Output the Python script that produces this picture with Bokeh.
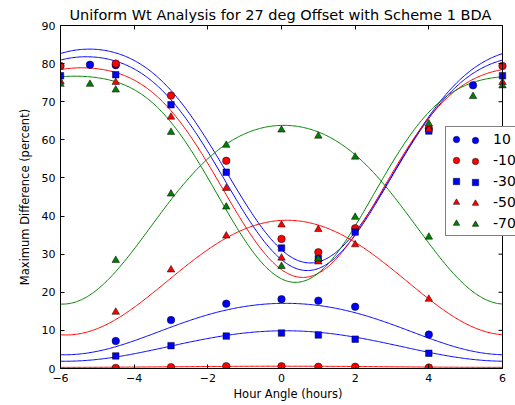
import numpy as np
from bokeh.plotting import figure
from bokeh.models import (Range1d, LinearAxis, Legend, LegendItem, Span,
                          CustomJSTickFormatter, FixedTicker)
from bokeh.embed import file_html
from bokeh.resources import INLINE

FONT = "DejaVu Sans"
TITLE = "Uniform Wt Analysis for 27 deg Offset with Scheme 1 BDA"
X_LABEL = "Hour Angle (hours)"
Y_LABEL = "Maximum Difference (percent)"
x_ticks = [-6, -4, -2, 0, 2, 4, 6]
x_tick_labels = ["\u22126", "\u22124", "\u22122", "0", "2", "4", "6"]
y_ticks = [0, 10, 20, 30, 40, 50, 60, 70, 80, 90]
X_MIN, X_MAX = -6, 6
Y_MIN, Y_MAX = 0, 90

series_labels = ["10", "-10", "-30", "-50", "-70"]
series_colors = ["#0000ff", "#ff0000", "#0000ff", "#ff0000", "#008000"]
series_markers = ["circle", "circle", "square", "triangle", "triangle"]
series_sizes = [7.5, 7.5, 6.5, 7.5, 7.5]

# measured points: upper branch (high at the ends) and lower branch (peak near 0)
s10_up_h = [-5.2, -4.5, 5.2]
s10_up_v = [79.7, 79.6, 74.3]
s10_lo_h = [-4.5, -3, -1.5, 0, 1, 2, 4]
s10_lo_v = [7.2, 12.7, 17.0, 18.2, 17.8, 16.2, 8.9]

m10_up_h = [-6, -4.5, -3, -1.5, 0, 1, 2, 4, 6]
m10_up_v = [79.4, 80.0, 71.6, 54.5, 34.0, 30.5, 36.8, 63.0, 79.4]
m10_lo_h = [-4.5, -3, -1.5, 0, 1, 2, 4]
m10_lo_v = [0.15, 0.35, 0.6, 0.6, 0.45, 0.45, 0.25]

m30_up_h = [-6, -4.5, -3, -1.5, 0, 1, 2, 4, 6]
m30_up_v = [76.8, 77.1, 69.2, 51.5, 31.6, 28.8, 35.8, 62.3, 76.8]
m30_lo_h = [-4.5, -3, -1.5, 0, 1, 2, 4]
m30_lo_v = [3.3, 6.0, 8.5, 9.3, 8.8, 7.7, 4.0]

m50_up_h = [-6, -4.5, -3, -1.5, 0, 1, 4, 6]
m50_up_v = [75.3, 75.1, 66.0, 47.3, 29.0, 28.0, 62.8, 75.1]
m50_lo_h = [-4.5, -3, -1.5, 0, 1, 2, 4]
m50_lo_v = [14.8, 25.9, 34.8, 37.7, 36.5, 32.5, 18.2]

m70_up_h = [-6, -5.2, -4.5, -3, -1.5, 0, 1, 2, 4, 5.2, 6]
m70_up_v = [74.6, 74.6, 73.1, 62.0, 42.4, 26.8, 28.8, 39.7, 64.2, 71.4, 74.2]
m70_lo_h = [-4.5, -3, -1.5, 0, 1, 2, 4]
m70_lo_v = [28.4, 45.8, 58.6, 62.6, 61.0, 55.5, 34.5]

points_h = [s10_up_h + s10_lo_h, m10_up_h + m10_lo_h, m30_up_h + m30_lo_h,
            m50_up_h + m50_lo_h, m70_up_h + m70_lo_h]
points_v = [s10_up_v + s10_lo_v, m10_up_v + m10_lo_v, m30_up_v + m30_lo_v,
            m50_up_v + m50_lo_v, m70_up_v + m70_lo_v]

# model curves (12 h period): centre hour, minimum, peak, 2nd-harmonic term
upper_colors = ["#0000ff", "#0000ff", "#ff0000", "#008000"]
upper_center = [0.78, 0.70, 0.58, 0.38]
upper_min = [27.7, 25.7, 23.9, 22.6]
upper_peak = [83.8, 81.8, 78.9, 76.7]
upper_harm2 = [-3.6, -3.85, -4.4, -5.0]

lower_colors = ["#0000ff", "#ff0000", "#0000ff", "#ff0000", "#008000"]
lower_center = [0.1, 0.0, 0.1, 0.15, 0.06]
lower_peak = [17.1, 0.6, 9.9, 38.9, 63.8]
lower_min = [3.6, 0.3, 1.9, 8.8, 16.9]
lower_harm2 = [-0.43, 0.0, -0.1, -0.53, -2.33]

# layout: axes box 60..502 px wide; the plotting frame runs on to the window
# edge so that the legend can hang over the right spine as in the original
W, H = 515, 405
LEFT, TOP, BOTTOM = 60, 25, 37
BOX_RIGHT = 502
px_per_hour = (BOX_RIGHT - LEFT) / (X_MAX - X_MIN)
x_end = X_MAX + (W - BOX_RIGHT) / px_per_hour

p = figure(width=W, height=H, x_range=Range1d(X_MIN, x_end), y_range=Range1d(Y_MIN, Y_MAX),
           output_backend="svg", toolbar_location=None,
           min_border_left=LEFT, min_border_right=0, min_border_top=TOP,
           min_border_bottom=BOTTOM)
p.background_fill_color = "white"
p.border_fill_color = "white"
p.outline_line_color = None
p.xgrid.visible = False
p.ygrid.visible = False

p.title.text = TITLE
p.title.align = "left"
p.title.offset = 9
p.title.standoff = 5
p.title.text_font = FONT
p.title.text_font_size = "14.5px"
p.title.text_font_style = "normal"
p.title.text_color = "black"

hh = np.linspace(X_MIN, X_MAX, 361)
for col, h0, vmin, vpk, c2 in zip(upper_colors, upper_center, upper_min, upper_peak, upper_harm2):
    b = (vpk - vmin) / 2.0
    a = (vpk + vmin) / 2.0 - c2
    phi = np.pi * (hh - h0) / 6.0
    p.line(hh, a - b * np.cos(phi) + c2 * np.cos(2 * phi), line_color=col, line_width=1)
for col, h0, vmin, vpk, c2 in zip(lower_colors, lower_center, lower_min, lower_peak, lower_harm2):
    b = (vpk - vmin) / 2.0
    a = (vpk + vmin) / 2.0 - c2
    phi = np.pi * (hh - h0) / 6.0
    p.line(hh, a + b * np.cos(phi) + c2 * np.cos(2 * phi), line_color=col, line_width=1)

renderers = []
for lab, col, mk, sz, hs, vs in zip(series_labels, series_colors, series_markers,
                                    series_sizes, points_h, points_v):
    r = p.scatter(hs, vs, marker=mk, size=sz, fill_color=col, line_color="black",
                  line_width=0.5)
    renderers.append(r)

xa = p.xaxis[0]
xa.ticker = FixedTicker(ticks=x_ticks)
xa.major_label_overrides = {t: l for t, l in zip(x_ticks, x_tick_labels)}
xa.bounds = (X_MIN, X_MAX)
ya = p.yaxis[0]
ya.ticker = FixedTicker(ticks=y_ticks)
for ax in (xa, ya):
    ax.major_tick_in = 4
    ax.major_tick_out = 0
    ax.minor_tick_in = 0
    ax.minor_tick_out = 0
    ax.axis_line_color = "black"
    ax.major_tick_line_color = "black"
    ax.major_label_text_font = FONT
    ax.major_label_text_font_size = "11px"
    ax.major_label_text_color = "black"
    ax.axis_label_text_font = FONT
    ax.axis_label_text_font_size = "11.5px"
    ax.axis_label_text_font_style = "normal"
    ax.axis_label_text_color = "black"
xa.axis_label = X_LABEL
xa.major_label_standoff = 5
xa.axis_label_standoff = 2
ya.axis_label = Y_LABEL
ya.major_label_standoff = 5
ya.axis_label_standoff = 7

empty = CustomJSTickFormatter(code="return ''")
top = LinearAxis(ticker=FixedTicker(ticks=x_ticks), formatter=empty, bounds=(X_MIN, X_MAX),
                 major_tick_in=4, major_tick_out=0, minor_tick_in=0, minor_tick_out=0,
                 major_label_standoff=0, major_label_text_font_size="0px",
                 axis_line_color="black")
p.add_layout(top, "above")

# right spine of the axes box with inward ticks
p.add_layout(Span(location=X_MAX, dimension="height", line_color="black", line_width=1))
tick_len = 4 / px_per_hour
p.segment(x0=[X_MAX] * len(y_ticks), y0=y_ticks, x1=[X_MAX - tick_len] * len(y_ticks),
          y1=y_ticks, line_color="black", line_width=1)

# legend: box with first marker and label, then an overlay with the second marker
leg_a = Legend(items=[LegendItem(label=l, renderers=[r]) for l, r in zip(series_labels, renderers)],
               location=(385, 132), padding=2, spacing=1, glyph_width=16, glyph_height=20,
               label_height=20, label_standoff=29, label_text_font=FONT,
               label_text_font_size="14px", label_text_color="black",
               border_line_color="black", border_line_width=1,
               background_fill_color="white", background_fill_alpha=1.0, margin=0)
leg_b = Legend(items=[LegendItem(label=" ", renderers=[r]) for r in renderers],
               location=(405, 132), padding=2, spacing=1, glyph_width=16, glyph_height=20,
               label_height=20, label_standoff=0, label_text_font=FONT,
               label_text_font_size="14px", label_text_alpha=0.0,
               border_line_alpha=0.0, background_fill_alpha=0.0, margin=0)
p.add_layout(leg_a, "center")
p.add_layout(leg_b, "center")

open("out.html", "w").write(file_html(p, INLINE))
